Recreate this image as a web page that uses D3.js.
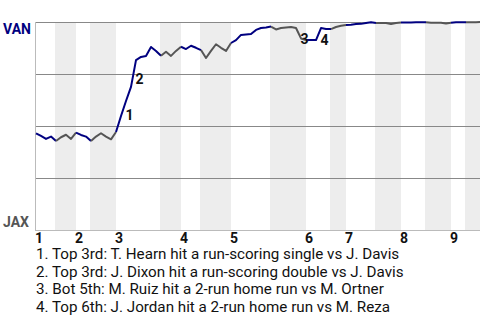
<!DOCTYPE html>
<html>
<head>
<meta charset="utf-8">
<script src="https://cdn.jsdelivr.net/npm/d3@7"></script>
<style>
  body { margin: 0; background: #fff; }
  text { font-family: Roboto, "Liberation Sans", sans-serif; }
</style>
</head>
<body>
<div id="wp_chart"></div>
<script>

// VAN win probability (%) after each plate appearance
var winProb = [
  46.5, 45.2, 43.8, 44.9, 42.8,          // top 1
  44.6, 45.8, 43.8, 46.8,                // bot 1
  45.7, 44.9, 42.8,                      // top 2
  44.9, 46.5, 44.9, 43.6, 47.1,          // bot 2
  54.8, 62.0, 68.8, 81.7, 83.2, 83.7, 88.0, 86.1, 83.8,   // top 3
  85.7, 83.7, 86.1, 88.1,                // bot 3
  87.0, 88.6, 87.6, 86.5,                // top 4
  82.7, 86.1, 89.3, 87.6, 86.1, 89.9,    // bot 4
  91.3, 93.8, 94.0, 94.2, 96.2, 97.1, 97.4, 97.8,   // top 5
  96.4, 97.1, 97.4, 97.6, 97.1, 92.1, 91.3,         // bot 5
  91.3, 91.3, 97.1, 96.6, 96.6,          // top 6
  97.6, 98.2, 98.6,                      // bot 6
  98.7, 99.0, 99.1, 99.5, 99.9, 99.5,    // top 7
  99.5, 99.5, 99.0, 99.5, 99.8,          // bot 7
  99.8, 99.8, 99.9, 99.9, 99.9,          // top 8
  99.6, 99.6, 99.6, 99.3, 99.6,          // bot 8
  99.9, 99.9, 99.9,                      // top 9
  99.9, 99.9, 100                        // bot 9
];

// index of the last plate appearance of each half inning
var halfEnds = [4, 8, 11, 16, 25, 29, 33, 39, 47, 54, 59, 62, 68, 73, 78, 83, 86, 89];

var innings = ['1', '2', '3', '4', '5', '6', '7', '8', '9'];

var teamTop = 'VAN', teamBottom = 'JAX';

// plate appearance that ends each marked play
var eventIdx = [18, 20, 53, 57];
var eventText = [
  '1. Top 3rd: T. Hearn hit a run-scoring single vs J. Davis',
  '2. Top 3rd: J. Dixon hit a run-scoring double vs J. Davis',
  '3. Bot 5th: M. Ruiz hit a 2-run home run vs M. Ortner',
  '4. Top 6th: J. Jordan hit a 2-run home run vs M. Reza'
];


var width = 480, height = 320;
var plot = { left: 35, right: 480, top: 22, bottom: 230 };

var svg = d3.select('#wp_chart')
  .append('svg')
  .attr('width', width)
  .attr('height', height);

var x = d3.scaleLinear().domain([0, winProb.length - 1]).range([plot.left, plot.right]);
var y = d3.scaleLinear().domain([0, 100]).range([plot.bottom, plot.top]);

svg.append('clipPath').attr('id', 'plotclip')
  .append('rect')
  .attr('x', plot.left).attr('y', 0)
  .attr('width', plot.right - plot.left).attr('height', plot.bottom);

// shaded bottom halves
var halfStarts = [0].concat(halfEnds.slice(0, -1));
var bottoms = halfEnds.map(function(e, i) { return [halfStarts[i], e]; })
  .filter(function(d, i) { return i % 2 == 1; });

svg.append('g').selectAll('rect')
  .data(bottoms)
  .enter().append('rect')
  .attr('x', function(d) { return x(d[0]); })
  .attr('y', plot.top)
  .attr('width', function(d) { return x(d[1]) - x(d[0]) + 1; })
  .attr('height', plot.bottom - plot.top)
  .attr('fill', '#ededed');

// grid lines
svg.append('g').selectAll('line')
  .data([25, 50, 75, 100])
  .enter().append('line')
  .attr('x1', plot.left).attr('x2', plot.right)
  .attr('y1', function(d) { return y(d) + 0.5; })
  .attr('y2', function(d) { return y(d) + 0.5; })
  .attr('stroke', '#888');

svg.append('line')
  .attr('x1', plot.left).attr('x2', plot.right)
  .attr('y1', y(0) + 0.5).attr('y2', y(0) + 0.5)
  .attr('stroke', '#bbb');

svg.append('line')
  .attr('x1', plot.left + 0.5).attr('x2', plot.left + 0.5)
  .attr('y1', plot.top).attr('y2', plot.bottom)
  .attr('stroke', '#bbb');

// win probability line, one path per half inning
var line = d3.line()
  .x(function(d) { return x(d) + 1; })
  .y(function(d) { return y(winProb[d]); });

svg.append('g')
  .attr('clip-path', 'url(#plotclip)')
  .selectAll('path')
  .data(halfEnds.map(function(e, i) { return d3.range(halfStarts[i], e + 1); }))
  .enter().append('path')
  .attr('d', line)
  .attr('fill', 'none')
  .attr('stroke', function(d, i) { return i % 2 == 0 ? '#000080' : '#555'; })
  .attr('stroke-width', 2)
  .attr('stroke-linejoin', 'round');

// play markers, placed beside the middle of the play's segment
svg.append('g').selectAll('text')
  .data(eventIdx)
  .enter().append('text')
  .attr('x', function(d) { return (x(d - 1) + x(d)) / 2 + 3; })
  .attr('y', function(d) { return (y(winProb[d - 1]) + y(winProb[d])) / 2 + 11; })
  .attr('font-size', 14)
  .attr('font-weight', 'bold')
  .attr('fill', '#111')
  .text(function(d, i) { return i + 1; });

// team labels
svg.append('text')
  .attr('x', 3).attr('y', y(100) + 12)
  .attr('font-size', 14).attr('font-weight', 'bold')
  .attr('fill', '#000080')
  .text(teamTop);

svg.append('text')
  .attr('x', 3).attr('y', y(0) - 3)
  .attr('font-size', 14).attr('font-weight', 'bold')
  .attr('fill', '#555')
  .text(teamBottom);

// inning labels at the first plate appearance of each inning
var inningStarts = halfStarts.filter(function(d, i) { return i % 2 == 0; });

svg.append('g').selectAll('text')
  .data(innings)
  .enter().append('text')
  .attr('x', function(d, i) { return x(inningStarts[i]); })
  .attr('y', 243)
  .attr('font-size', 14).attr('font-weight', 'bold')
  .attr('fill', '#111')
  .text(function(d) { return d; });

// play descriptions
svg.append('g').selectAll('text')
  .data(eventText)
  .enter().append('text')
  .attr('x', 36)
  .attr('y', function(d, i) { return 259 + i * 17.6; })
  .attr('font-size', 15.2)
  .attr('fill', '#111')
  .text(function(d) { return d; });

</script>
</body>
</html>
